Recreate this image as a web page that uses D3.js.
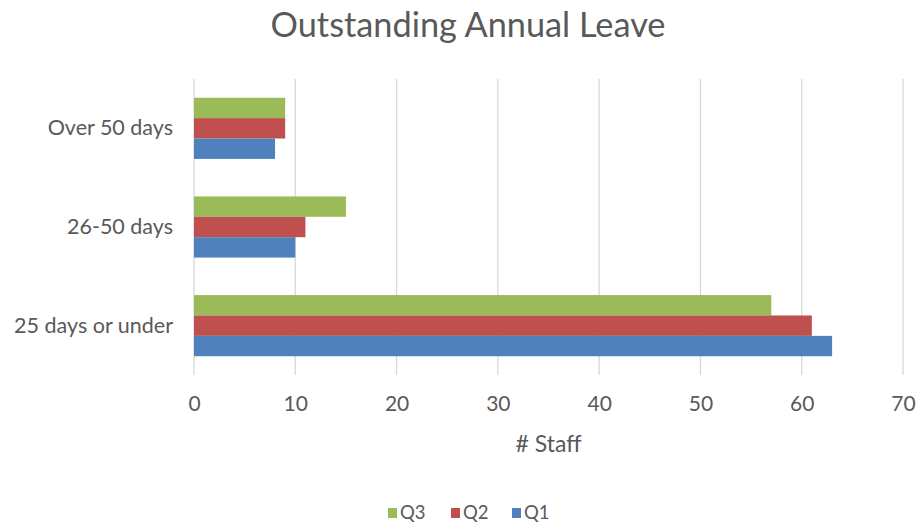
<!DOCTYPE html>
<html>
<head>
<meta charset="utf-8">
<script src="https://cdn.jsdelivr.net/npm/d3@7"></script>
<style>
  html, body { margin: 0; padding: 0; background: #fff; }
  svg { display: block; font-family: Lato, "Open Sans", sans-serif; }
</style>
</head>
<body>
<svg id="chart" width="917" height="526"></svg>
<script>
// Outstanding annual leave by band, per quarter
const categories = ["Over 50 days", "26-50 days", "25 days or under"];
const seriesNames = ["Q3", "Q2", "Q1"];
const q3 = [9, 15, 57];
const q2 = [9, 11, 61];
const q1 = [8, 10, 63];
const xTicks = [0, 10, 20, 30, 40, 50, 60, 70];
const colors = { Q3: "#9BBB59", Q2: "#C0504D", Q1: "#4F81BD" };

const seriesValues = { Q3: q3, Q2: q2, Q1: q1 };
const rows = categories.map((c, i) => ({
  category: c,
  values: seriesNames.map(s => ({ key: s, value: seriesValues[s][i] }))
}));

const svg = d3.select("#chart");
const margin = { left: 194, right: 14, top: 79, bottom: 151 };
const width = 917 - margin.left - margin.right;
const height = 526 - margin.top - margin.bottom;
const textColor = "#595959";
const gridColor = "#d9d9d9";

const x = d3.scaleLinear().domain([0, 70]).range([0, width]);
const y = d3.scaleBand().domain(categories).range([0, height]).paddingInner(0.38).paddingOuter(0.19);
const ySub = d3.scaleBand().domain(seriesNames).range([0, y.bandwidth()]);

const g = svg.append("g").attr("transform", `translate(${margin.left},${margin.top})`);

// Title
svg.append("text")
  .attr("x", 468).attr("y", 37)
  .attr("text-anchor", "middle")
  .attr("font-size", 34.3)
  .attr("fill", textColor)
  .text("Outstanding Annual Leave");

// Vertical gridlines
g.selectAll("line.grid")
  .data(xTicks)
  .join("line")
  .attr("class", "grid")
  .attr("x1", d => x(d)).attr("x2", d => x(d))
  .attr("y1", 0).attr("y2", height)
  .attr("stroke", gridColor).attr("stroke-width", 1.3);

// Bars
const groups = g.selectAll("g.cat")
  .data(rows)
  .join("g")
  .attr("class", "cat")
  .attr("transform", d => `translate(0,${y(d.category)})`);

groups.selectAll("rect")
  .data(d => d.values)
  .join("rect")
  .attr("x", x(0))
  .attr("y", d => ySub(d.key))
  .attr("width", d => x(d.value) - x(0))
  .attr("height", ySub.bandwidth())
  .attr("fill", d => colors[d.key]);

// X axis tick labels
const xAxis = d3.axisBottom(x).tickValues(xTicks).tickSize(0).tickPadding(21);
const xg = g.append("g").attr("transform", `translate(0,${height})`).call(xAxis);
xg.select(".domain").remove();
xg.selectAll("text").attr("font-size", 21).attr("fill", textColor).attr("font-family", "Lato, sans-serif");

// Y axis category labels
const yAxis = d3.axisLeft(y).tickSize(0).tickPadding(21);
const yg = g.append("g").call(yAxis);
yg.select(".domain").remove();
yg.selectAll("text").attr("font-size", 21.5).attr("fill", textColor).attr("font-family", "Lato, sans-serif");

// Axis title
svg.append("text")
  .attr("x", margin.left + width / 2).attr("y", 452)
  .attr("text-anchor", "middle")
  .attr("font-size", 23)
  .attr("fill", textColor)
  .text("# Staff");

// Legend
const legendItems = [
  { key: "Q3", x: 388 },
  { key: "Q2", x: 451 },
  { key: "Q1", x: 512 }
];
const legend = svg.append("g").attr("transform", "translate(0,519)");
const li = legend.selectAll("g").data(legendItems).join("g")
  .attr("transform", d => `translate(${d.x},0)`);
li.append("rect").attr("x", 0).attr("y", -11).attr("width", 9).attr("height", 10)
  .attr("fill", d => colors[d.key]);
li.append("text").attr("x", 12).attr("y", 0)
  .attr("font-size", 18.5).attr("fill", textColor)
  .text(d => d.key);
</script>
</body>
</html>
